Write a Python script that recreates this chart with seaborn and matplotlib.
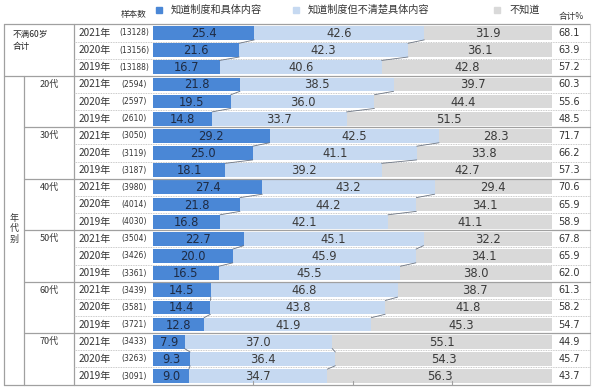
import numpy as np
import pandas as pd
import matplotlib
matplotlib.use("Agg")
import matplotlib.pyplot as plt
import seaborn as sns

# ---------------- data ----------------
groups = ["不满60岁合计", "20代", "30代", "40代", "50代", "60代", "70代"]
years = ["2021年", "2020年", "2019年"]
sample_n = [13128, 13156, 13188,
            2594, 2597, 2610,
            3050, 3119, 3187,
            3980, 4014, 4030,
            3504, 3426, 3361,
            3439, 3581, 3721,
            3433, 3263, 3091]
know_detail = [25.4, 21.6, 16.7,
               21.8, 19.5, 14.8,
               29.2, 25.0, 18.1,
               27.4, 21.8, 16.8,
               22.7, 20.0, 16.5,
               14.5, 14.4, 12.8,
               7.9, 9.3, 9.0]
know_only = [42.6, 42.3, 40.6,
             38.5, 36.0, 33.7,
             42.5, 41.1, 39.2,
             43.2, 44.2, 42.1,
             45.1, 45.9, 45.5,
             46.8, 43.8, 41.9,
             37.0, 36.4, 34.7]
unknown = [31.9, 36.1, 42.8,
           39.7, 44.4, 51.5,
           28.3, 33.8, 42.7,
           29.4, 34.1, 41.1,
           32.2, 34.1, 38.0,
           38.7, 41.8, 45.3,
           55.1, 54.3, 56.3]
total_pct = [68.1, 63.9, 57.2,
             60.3, 55.6, 48.5,
             71.7, 66.2, 57.3,
             70.6, 65.9, 58.9,
             67.8, 65.9, 62.0,
             61.3, 58.2, 54.7,
             44.9, 45.7, 43.7]
series_names = ["知道制度和具体内容", "知道制度但不清楚具体内容", "不知道"]

BLUE = "#4a87d6"
LIGHT = "#c6d9f1"
GRAY = "#d9d9d9"

# ---------------- frame ----------------
rows = [f"{g}|{y}" for g in groups for y in years]
df = pd.DataFrame({
    "row": rows,
    "group": [g for g in groups for _ in years],
    "year": years * len(groups),
    "n": sample_n,
    "a": know_detail,
    "b": know_only,
    "c": unknown,
    "tot": total_pct,
})
df["c1"] = df["a"]
df["c2"] = df["a"] + df["b"]
df["c3"] = df["a"] + df["b"] + df["c"]

sns.set_theme(style="white")
plt.rcParams["font.family"] = ["Noto Sans CJK SC", "DejaVu Sans"]

fig = plt.figure(figsize=(6.0, 3.9), dpi=100)
ax = fig.add_axes([0, 0, 1, 1])

for col, color in [("c3", GRAY), ("c2", LIGHT), ("c1", BLUE)]:
    sns.barplot(data=df, x=col, y="row", order=rows, orient="h", color=color,
                saturation=1, width=0.8, errorbar=None, edgecolor="none", ax=ax)

# pixel -> data helpers (layout only)
def X(px):
    return (px - 153) / 3.99

def Y(py):
    return (py - 33) / 17.15

ax.set_xlim(X(0), X(600))
ax.set_ylim(Y(390), Y(0))
ax.set_axis_off()

n = len(rows)
line_c = "#a0a0a0"
# table frame
ax.plot([X(4), X(590)], [-0.5, -0.5], color=line_c, lw=0.9, clip_on=False)
ax.plot([X(4), X(590)], [n - 0.5, n - 0.5], color=line_c, lw=0.9, clip_on=False)
ax.plot([X(4), X(4)], [-0.5, n - 0.5], color=line_c, lw=0.9)
ax.plot([X(24), X(24)], [2.5, n - 0.5], color=line_c, lw=0.9)
ax.plot([X(74), X(74)], [-0.5, n - 0.5], color=line_c, lw=0.9)
ax.plot([X(590), X(590)], [-0.5, n - 0.5], color="#d0d0d0", lw=0.8)
for gi in range(1, len(groups)):
    yy = gi * 3 - 0.5
    x0 = X(4) if gi == 1 else X(24)
    ax.plot([x0, X(590)], [yy, yy], color=line_c, lw=0.9)
for i in range(n - 1):
    if (i + 1) % 3 != 0:
        ax.plot([X(74), X(590)], [i + 0.5, i + 0.5], color="#b8b8b8",
                lw=0.6, ls=(0, (1, 1)))
# bottom ticks
for t in [25, 50, 75]:
    ax.plot([t, t], [n - 0.5, n - 0.68], color=line_c, lw=0.8)

# connector lines within groups
c1 = df["c1"].to_numpy()
c2 = df["c2"].to_numpy()
for i in range(n - 1):
    if (i + 1) % 3 == 0:
        continue
    for cum in (c1, c2):
        ax.plot([cum[i], cum[i + 1]], [i + 0.4, i + 0.6], color="#6b7482", lw=0.6)

# segment labels
for i, r in df.iterrows():
    ax.text(r["a"] / 2, i + 0.03, f"{r['a']:.1f}", ha="center", va="center",
            fontsize=8.3, color="#1e2b44", family="DejaVu Sans")
    ax.text(r["a"] + r["b"] / 2, i + 0.03, f"{r['b']:.1f}", ha="center", va="center",
            fontsize=8.3, color="#3a3a3a", family="DejaVu Sans")
    ax.text(r["c2"] + r["c"] / 2, i + 0.03, f"{r['c']:.1f}", ha="center", va="center",
            fontsize=8.3, color="#3a3a3a", family="DejaVu Sans")
    ax.text(X(79), i, r["year"], ha="left", va="center", fontsize=7.2, color="#333333")
    ax.text(X(134), i, f"({r['n']})", ha="center", va="center", fontsize=5.5,
            color="#333333", family="DejaVu Sans")
    ax.text(X(569), i, f"{r['tot']:.1f}", ha="center", va="center", fontsize=7,
            color="#333333", family="DejaVu Sans")

# group labels
ax.text(X(13), Y(34), "不满60岁", ha="left", va="center", fontsize=6.2, color="#222222")
ax.text(X(13), Y(46), "合计", ha="left", va="center", fontsize=6.2, color="#222222")
for gi, g in enumerate(groups[1:], start=1):
    ax.text(X(49), gi * 3, g, ha="center", va="center", fontsize=6.5, color="#333333")
ax.text(X(14), Y(229), "年\n代\n别", ha="center", va="center", fontsize=6.5,
        color="#333333", linespacing=1.25)

# header
ax.text(X(134), Y(14.5), "样本数", ha="center", va="center", fontsize=6.2, color="#333333")
ax.text(X(571), Y(16), "合计%", ha="center", va="center", fontsize=6.2, color="#333333")
legend_pos = [(159, 171), (296, 308), (497, 509)]
for (sx, tx), name, color in zip(legend_pos, series_names, [BLUE, LIGHT, GRAY]):
    ax.plot([X(sx)], [Y(10)], marker="s", markersize=4.5, color=color, ls="none",
            clip_on=False)
    ax.text(X(tx), Y(9.5), name, ha="left", va="center", fontsize=7.3, color="#333333")

fig.savefig("out.png", dpi=100)
